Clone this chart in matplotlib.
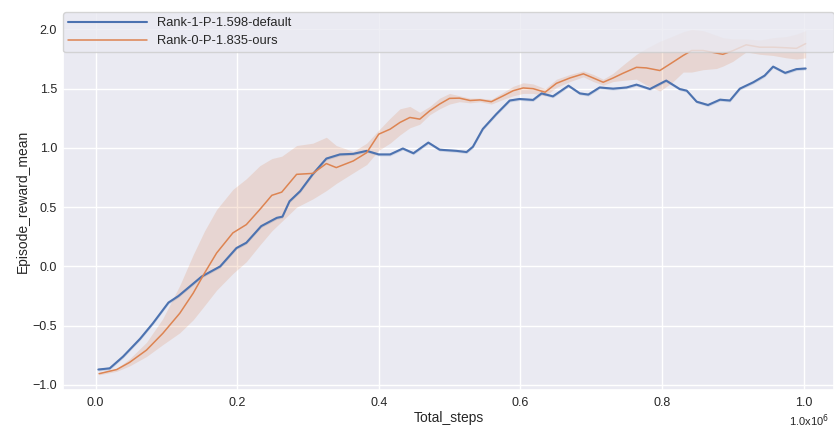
import numpy as np
import matplotlib
matplotlib.use("Agg")
import matplotlib.pyplot as plt
import seaborn as sns

# blue run (default), x in units of 1e6 steps
default_x = [0.004, 0.02, 0.039, 0.063, 0.081, 0.103, 0.117, 0.133, 0.15, 0.176,
             0.199, 0.213, 0.234, 0.256, 0.264, 0.274, 0.289, 0.307, 0.326, 0.345,
             0.364, 0.383, 0.40, 0.416, 0.434, 0.449, 0.47, 0.486, 0.51, 0.524,
             0.533, 0.547, 0.566, 0.585, 0.599, 0.618, 0.63, 0.646, 0.668, 0.684,
             0.696, 0.712, 0.731, 0.75, 0.764, 0.783, 0.806, 0.825, 0.835, 0.849,
             0.865, 0.882, 0.896, 0.91, 0.929, 0.945, 0.957, 0.974, 0.99, 1.003]
default_y = [-0.87, -0.86, -0.76, -0.61, -0.48, -0.305, -0.25, -0.17, -0.085, 0.0,
             0.155, 0.20, 0.34, 0.41, 0.42, 0.55, 0.635, 0.78, 0.91, 0.945,
             0.95, 0.975, 0.945, 0.945, 0.995, 0.955, 1.045, 0.985, 0.975, 0.965,
             1.01, 1.16, 1.285, 1.40, 1.413, 1.405, 1.46, 1.435, 1.525, 1.46,
             1.45, 1.51, 1.50, 1.51, 1.534, 1.497, 1.568, 1.497, 1.483, 1.39,
             1.362, 1.407, 1.40, 1.50, 1.554, 1.61, 1.686, 1.633, 1.665, 1.67]

# orange run (ours) with its shaded band
ours_x = [0.005, 0.03, 0.048, 0.072, 0.095, 0.119, 0.138, 0.154, 0.171, 0.194,
          0.213, 0.232, 0.249, 0.263, 0.284, 0.307, 0.326, 0.34, 0.364, 0.383,
          0.40, 0.416, 0.43, 0.444, 0.458, 0.472, 0.486, 0.50, 0.514, 0.529,
          0.543, 0.559, 0.576, 0.59, 0.604, 0.618, 0.635, 0.651, 0.67, 0.689,
          0.703, 0.717, 0.731, 0.745, 0.764, 0.778, 0.797, 0.814, 0.83, 0.842,
          0.858, 0.877, 0.886, 0.90, 0.919, 0.938, 0.957, 0.976, 0.99, 1.003]
ours_y = [-0.905, -0.87, -0.81, -0.706, -0.565, -0.395, -0.225, -0.056, 0.113, 0.283,
          0.353, 0.48, 0.60, 0.627, 0.777, 0.785, 0.868, 0.834, 0.89, 0.96,
          1.116, 1.158, 1.215, 1.257, 1.243, 1.313, 1.37, 1.418, 1.42, 1.40,
          1.405, 1.39, 1.44, 1.483, 1.506, 1.50, 1.47, 1.545, 1.59, 1.625,
          1.59, 1.554, 1.59, 1.63, 1.68, 1.675, 1.653, 1.718, 1.78, 1.822,
          1.822, 1.80, 1.79, 1.82, 1.87, 1.85, 1.85, 1.845, 1.84, 1.88]
ours_lo = [-0.915, -0.885, -0.84, -0.76, -0.66, -0.56, -0.45, -0.33, -0.20, -0.06,
           0.04, 0.18, 0.30, 0.38, 0.50, 0.57, 0.64, 0.70, 0.79, 0.86,
           0.98, 1.04, 1.11, 1.17, 1.20, 1.28, 1.33, 1.37, 1.39, 1.38,
           1.39, 1.37, 1.41, 1.44, 1.46, 1.46, 1.44, 1.51, 1.56, 1.60,
           1.56, 1.53, 1.56, 1.57, 1.58, 1.53, 1.48, 1.55, 1.64, 1.64,
           1.66, 1.67, 1.69, 1.73, 1.81, 1.79, 1.78, 1.76, 1.75, 1.76]
ours_hi = [-0.895, -0.86, -0.78, -0.64, -0.44, -0.16, 0.10, 0.30, 0.48, 0.65,
           0.74, 0.85, 0.91, 0.93, 1.02, 1.04, 1.09, 1.02, 0.97, 1.04,
           1.15, 1.25, 1.33, 1.35, 1.30, 1.35, 1.42, 1.46, 1.44, 1.42,
           1.42, 1.41, 1.47, 1.52, 1.55, 1.54, 1.50, 1.58, 1.62, 1.65,
           1.62, 1.58, 1.63, 1.70, 1.79, 1.84, 1.90, 1.94, 1.98, 2.00,
           1.99, 1.95, 1.93, 1.92, 1.92, 1.91, 1.93, 1.94, 1.96, 1.99]

labels = ["Rank-1-P-1.598-default", "Rank-0-P-1.835-ours"]

sns.set_theme(style="darkgrid")
plt.rcParams['font.family'] = ['Liberation Sans', 'DejaVu Sans']

blue, orange = sns.color_palette("deep")[0], sns.color_palette("deep")[1]

fig = plt.figure(figsize=(8.34, 4.28), dpi=100)
ax = fig.add_axes([0.0755, 0.089, 0.9245, 0.883])

# thin band around the default run
dy = np.array(default_y)
ax.fill_between(default_x, dy - 0.012, dy + 0.012, color=blue, alpha=0.2, lw=0)
ax.plot(default_x, default_y, color=blue, lw=1.5, label=labels[0])

ax.fill_between(ours_x, ours_lo, ours_hi, color=orange, alpha=0.2, lw=0)
ax.plot(ours_x, ours_y, color=orange, lw=1.1, label=labels[1])

ax.set_xlim(-0.046, 1.043)
ax.set_ylim(-1.042, 2.147)
ax.set_xticks([0.0, 0.2, 0.4, 0.6, 0.8, 1.0])
ax.set_yticks([-1.0, -0.5, 0.0, 0.5, 1.0, 1.5, 2.0])
ax.tick_params(axis="x", labelsize=9, length=0, pad=5.2)
ax.tick_params(axis="y", labelsize=9, length=0, pad=4.3)

ax.set_xlabel("Total_steps", fontsize=10, labelpad=1.5)
ax.set_ylabel("Episode_reward_mean", fontsize=10, labelpad=2)
ax.text(0.993, -0.082, "1.0x10$^6$", transform=ax.transAxes, fontsize=8,
        ha="right", va="center")

ax.legend(loc="upper left", bbox_to_anchor=(0, 0, 1, 1), mode="expand",
          borderaxespad=0, fontsize=9.3, handlelength=6.1, handletextpad=0.8,
          labelspacing=0.45, frameon=True)

fig.savefig("out.png", dpi=100)
